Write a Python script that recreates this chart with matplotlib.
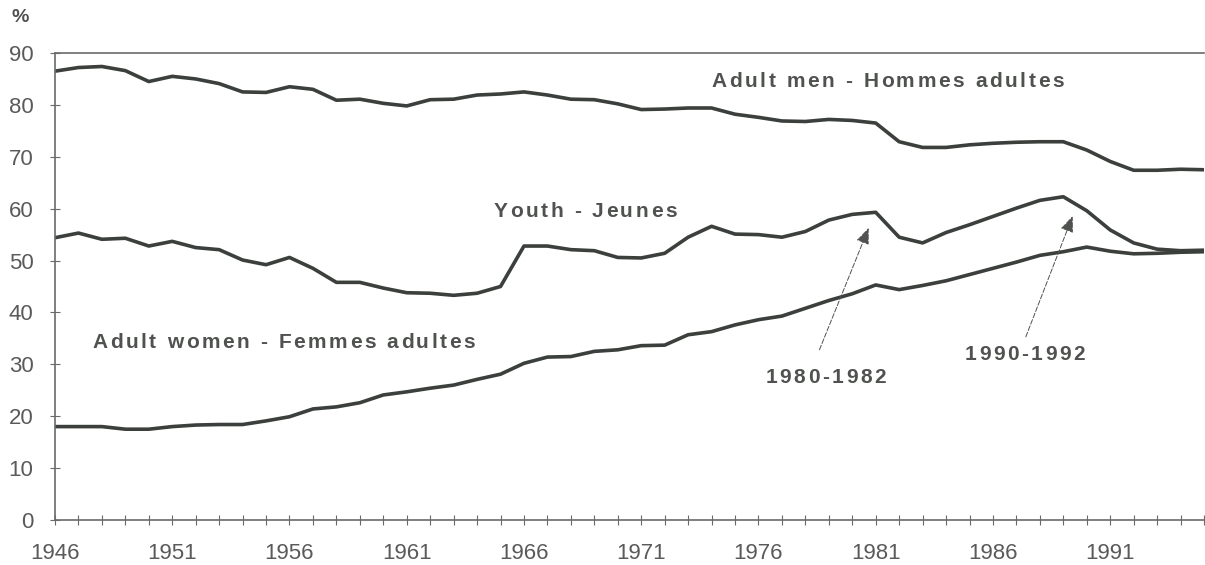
import matplotlib
matplotlib.use("Agg")
import matplotlib.pyplot as plt
import matplotlib.transforms as mtransforms
from matplotlib.font_manager import FontProperties
from matplotlib.textpath import TextToPath
from matplotlib.ticker import MultipleLocator

# participation rates, 1946-1995 (%)
years = list(range(1946, 1996))
men = [86.5, 87.2, 87.4, 86.6, 84.5, 85.5, 85.0, 84.1, 82.5, 82.4,
       83.5, 83.0, 80.9, 81.1, 80.3, 79.8, 81.0, 81.1, 81.9, 82.1,
       82.5, 81.9, 81.1, 81.0, 80.2, 79.1, 79.2, 79.4, 79.4, 78.2,
       77.6, 76.9, 76.8, 77.2, 77.0, 76.5, 72.9, 71.8, 71.8, 72.3,
       72.6, 72.8, 72.9, 72.9, 71.3, 69.1, 67.4, 67.4, 67.6, 67.5]
youth = [54.4, 55.3, 54.1, 54.3, 52.8, 53.7, 52.5, 52.1, 50.1, 49.2,
         50.6, 48.5, 45.8, 45.8, 44.7, 43.8, 43.7, 43.3, 43.7, 45.0,
         52.8, 52.8, 52.1, 51.9, 50.6, 50.5, 51.4, 54.5, 56.6, 55.1,
         55.0, 54.5, 55.6, 57.8, 58.9, 59.3, 54.5, 53.4, 55.4, 56.9,
         58.5, 60.1, 61.6, 62.3, 59.6, 55.9, 53.4, 52.2, 51.9, 52.0]
women = [18.0, 18.0, 18.0, 17.5, 17.5, 18.0, 18.3, 18.4, 18.4, 19.1,
         19.9, 21.4, 21.8, 22.6, 24.1, 24.7, 25.4, 26.0, 27.1, 28.1,
         30.2, 31.4, 31.5, 32.5, 32.8, 33.6, 33.7, 35.7, 36.3, 37.6,
         38.6, 39.3, 40.8, 42.3, 43.6, 45.3, 44.4, 45.2, 46.1, 47.3,
         48.5, 49.7, 51.0, 51.7, 52.6, 51.8, 51.3, 51.4, 51.6, 51.7]

labels = ["Adult men - Hommes adultes", "Youth - Jeunes",
          "Adult women - Femmes adultes", "1980-1982", "1990-1992"]
label_pos = [(1974.0, 84.5), (1964.7, 59.4), (1947.6, 34.3),
             (1976.3, 27.4), (1984.8, 31.8)]
arrows = [((1978.6, 32.8), (1980.7, 56.3)),
          ((1987.4, 35.3), (1989.4, 58.6))]

line_col = "#3b403c"
text_col = "#4f524f"
axis_col = "#6a6a6a"

plt.rcParams["font.family"] = ["Liberation Sans", "DejaVu Sans"]

fig = plt.figure(figsize=(12.05, 5.65), dpi=100)
ax = fig.add_axes([55 / 1205, 45 / 565, 1149 / 1205, 467 / 565])

for series in (men, youth, women):
    ax.plot(years, series, color=line_col, lw=2.6, solid_joinstyle="round")

ax.set_xlim(1946, 1995)
ax.set_ylim(0, 90)
ax.set_yticks(range(0, 91, 10))
ax.set_xticks(range(1946, 1995, 5))
ax.xaxis.set_minor_locator(MultipleLocator(1))
ax.tick_params(axis="both", which="both", direction="inout", color=axis_col,
               labelcolor="#5a5a5a", labelsize=16, width=0.8)
ax.tick_params(axis="x", which="both", length=7, pad=13)
ax.tick_params(axis="y", length=7, pad=12)
for side in ("left", "bottom", "top"):
    ax.spines[side].set_color(axis_col)
    ax.spines[side].set_linewidth(1.2)
ax.spines["right"].set_visible(False)

fig.text(20 / 1205, 1 - 18 / 565, "%", fontsize=14, fontweight="bold",
         color=text_col, ha="center", va="center")


def spaced_text(ax, x, y, s, gap_px, size):
    # draw text one glyph at a time to get the wide letter spacing
    prop = FontProperties(family="Liberation Sans", weight="bold", size=size)
    ttp = TextToPath()
    bar = ttp.get_text_width_height_descent("||", prop, ismath=False)[0]
    dx = 0.0
    for ch in s:
        trans = mtransforms.offset_copy(ax.transData, fig=ax.figure,
                                        x=dx, y=0, units="points")
        ax.text(x, y, ch, transform=trans, fontproperties=prop,
                color=text_col, ha="left", va="center")
        w = ttp.get_text_width_height_descent("|" + ch + "|", prop,
                                              ismath=False)[0] - bar
        dx += w * size / prop.get_size_in_points() + gap_px * 72 / 100


for lab, (lx, ly) in zip(labels, label_pos):
    spaced_text(ax, lx, ly, lab, 2.6, 15)

for tail, tip in arrows:
    ax.annotate("", xy=tip, xytext=tail,
                arrowprops=dict(arrowstyle="-|>,head_length=1.0,head_width=0.4",
                                color=text_col, lw=0.7, linestyle=(0, (5, 2)),
                                shrinkA=0, shrinkB=0))

fig.savefig("out.png", dpi=100, facecolor="white")
